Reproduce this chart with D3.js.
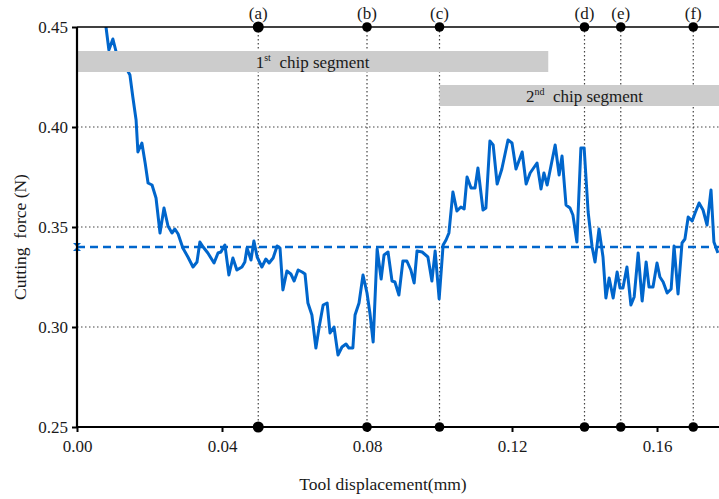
<!DOCTYPE html>
<html>
<head>
<meta charset="utf-8">
<script src="https://cdn.jsdelivr.net/npm/d3@7"></script>
<style>
  html, body { margin: 0; padding: 0; background: #fff; }
  svg { display: block; font-family: "Liberation Serif", "Times New Roman", serif; }
</style>
</head>
<body>
<svg id="chart" width="719" height="499"></svg>
<script>
// Tool displacement (mm)
const displacement = [
  0.0069, 0.0080, 0.0088, 0.0099, 0.0108, 0.0124, 0.0146, 0.0154, 0.0163, 0.0168,
  0.0179, 0.0188, 0.0196, 0.0207, 0.0218, 0.0229, 0.0240, 0.0251, 0.0262, 0.0270,
  0.0279, 0.0292, 0.0306, 0.0320, 0.0331, 0.0339, 0.0348, 0.0361, 0.0378, 0.0389,
  0.0397, 0.0408, 0.0419, 0.0430, 0.0441, 0.0455, 0.0463, 0.0469, 0.0480, 0.0488,
  0.0497, 0.0510, 0.0521, 0.0530, 0.0541, 0.0552, 0.0560, 0.0568, 0.0579, 0.0590,
  0.0599, 0.0610, 0.0621, 0.0629, 0.0637, 0.0648, 0.0659, 0.0668, 0.0679, 0.0690,
  0.0698, 0.0709, 0.0720, 0.0731, 0.0742, 0.0750, 0.0761, 0.0767, 0.0778, 0.0789,
  0.0800, 0.0808, 0.0817, 0.0828, 0.0839, 0.0847, 0.0858, 0.0869, 0.0877, 0.0888,
  0.0899, 0.0910, 0.0921, 0.0930, 0.0938, 0.0952, 0.0968, 0.0979, 0.0988, 0.0999,
  0.1010, 0.1018, 0.1026, 0.1037, 0.1048, 0.1059, 0.1068, 0.1076, 0.1087, 0.1098,
  0.1106, 0.1120, 0.1128, 0.1139, 0.1148, 0.1159, 0.1172, 0.1189, 0.1200, 0.1211,
  0.1228, 0.1239, 0.1250, 0.1269, 0.1280, 0.1288, 0.1297, 0.1319, 0.1330, 0.1338,
  0.1349, 0.1360, 0.1368, 0.1379, 0.1390, 0.1399, 0.1410, 0.1421, 0.1429, 0.1440,
  0.1451, 0.1459, 0.1468, 0.1479, 0.1490, 0.1498, 0.1506, 0.1517, 0.1528, 0.1537,
  0.1548, 0.1559, 0.1570, 0.1578, 0.1589, 0.1600, 0.1608, 0.1617, 0.1628, 0.1639,
  0.1647, 0.1658, 0.1669, 0.1677, 0.1686, 0.1697, 0.1705, 0.1716, 0.1727, 0.1738,
  0.1749, 0.1757, 0.1768
];

// Cutting force (N)
const cuttingForce = [
  0.4575, 0.4500, 0.4385, 0.4440, 0.4375, 0.4335, 0.4260, 0.4150, 0.4035, 0.3875,
  0.3920, 0.3820, 0.3720, 0.3710, 0.3645, 0.3470, 0.3595, 0.3505, 0.3470, 0.3490,
  0.3465, 0.3395, 0.3350, 0.3300, 0.3325, 0.3425, 0.3400, 0.3370, 0.3320, 0.3370,
  0.3375, 0.3410, 0.3260, 0.3345, 0.3285, 0.3300, 0.3325, 0.3395, 0.3335, 0.3430,
  0.3350, 0.3300, 0.3340, 0.3320, 0.3345, 0.3405, 0.3395, 0.3185, 0.3280, 0.3265,
  0.3230, 0.3285, 0.3275, 0.3265, 0.3120, 0.3060, 0.2895, 0.3000, 0.3110, 0.3120,
  0.2970, 0.3000, 0.2860, 0.2900, 0.2915, 0.2895, 0.2895, 0.3060, 0.3120, 0.3260,
  0.3170, 0.3070, 0.2925, 0.3390, 0.3240, 0.3360, 0.3375, 0.3230, 0.3225, 0.3160,
  0.3330, 0.3330, 0.3285, 0.3220, 0.3380, 0.3375, 0.3350, 0.3230, 0.3380, 0.3140,
  0.3410, 0.3435, 0.3470, 0.3675, 0.3580, 0.3600, 0.3590, 0.3750, 0.3695, 0.3695,
  0.3795, 0.3585, 0.3595, 0.3930, 0.3910, 0.3715, 0.3790, 0.3935, 0.3920, 0.3790,
  0.3875, 0.3715, 0.3770, 0.3820, 0.3690, 0.3770, 0.3710, 0.3910, 0.3760, 0.3855,
  0.3610, 0.3595, 0.3560, 0.3425, 0.3895, 0.3895, 0.3575, 0.3400, 0.3325, 0.3490,
  0.3350, 0.3145, 0.3245, 0.3145, 0.3275, 0.3195, 0.3195, 0.3300, 0.3110, 0.3150,
  0.3370, 0.3130, 0.3325, 0.3200, 0.3200, 0.3320, 0.3250, 0.3225, 0.3170, 0.3190,
  0.3405, 0.3165, 0.3420, 0.3440, 0.3550, 0.3530, 0.3570, 0.3620, 0.3585, 0.3510,
  0.3685, 0.3425, 0.3370
];

// Chip formation stages marked along the top and bottom axes
const eventLabels = ["(a)", "(b)", "(c)", "(d)", "(e)", "(f)"];
const eventPositions = [0.05, 0.08, 0.10, 0.14, 0.15, 0.17];

// Chip segment bands: start, end, lower force, upper force
const segmentNames = ["1", "2"];
const segmentSuffix = ["st", "nd"];
const segmentStart = [0.00, 0.10];
const segmentEnd = [0.13, 0.18];
const segmentLow = [0.4275, 0.4105];
const segmentHigh = [0.4380, 0.4210];

const meanForce = 0.34;
const xTicks = [0.00, 0.04, 0.08, 0.12, 0.16];
const yTicks = [0.25, 0.30, 0.35, 0.40, 0.45];
const yGrid = [0.30, 0.35, 0.40];

const svg = d3.select("#chart");
const plotLeft = 77, plotRight = 719, plotTop = 27, plotBottom = 427;
const blue = "#0066cc";

const x = d3.scaleLinear().domain([0, 0.1771]).range([plotLeft, plotRight]);
const y = d3.scaleLinear().domain([0.25, 0.45]).range([plotBottom, plotTop]);

svg.append("defs").append("clipPath").attr("id", "plot-clip")
  .append("rect").attr("x", plotLeft).attr("y", plotTop)
  .attr("width", plotRight - plotLeft).attr("height", plotBottom - plotTop);

// Horizontal dotted grid
svg.append("g").selectAll("line").data(yGrid).join("line")
  .attr("x1", plotLeft).attr("x2", plotRight)
  .attr("y1", d => y(d)).attr("y2", d => y(d))
  .attr("stroke", "#444").attr("stroke-width", 1.2)
  .attr("stroke-dasharray", "1.5,2.5");

// Vertical dotted markers for each stage
svg.append("g").selectAll("line").data(eventPositions).join("line")
  .attr("x1", d => x(d)).attr("x2", d => x(d))
  .attr("y1", plotTop).attr("y2", plotBottom)
  .attr("stroke", "#444").attr("stroke-width", 1.2)
  .attr("stroke-dasharray", "1.5,2.5");

// Force curve
const line = d3.line()
  .x((d, i) => x(displacement[i]))
  .y(d => y(d));

svg.append("path")
  .datum(cuttingForce)
  .attr("clip-path", "url(#plot-clip)")
  .attr("fill", "none")
  .attr("stroke", blue)
  .attr("stroke-width", 3)
  .attr("stroke-linejoin", "round")
  .attr("d", line);

// Mean force level
svg.append("line")
  .attr("x1", x(0)).attr("x2", plotRight)
  .attr("y1", y(meanForce)).attr("y2", y(meanForce))
  .attr("stroke", blue).attr("stroke-width", 2.5)
  .attr("stroke-dasharray", "8,5");

const my = y(meanForce), mx = x(0);
svg.append("path")
  .attr("d", `M${mx - 4},${my - 4}L${mx + 4},${my - 4}L${mx},${my}L${mx + 4},${my + 4}L${mx - 4},${my + 4}L${mx},${my}Z`)
  .attr("fill", blue);

// Chip segment bands
const bands = svg.append("g").attr("clip-path", "url(#plot-clip)");
segmentNames.forEach((name, i) => {
  bands.append("rect")
    .attr("x", x(segmentStart[i]))
    .attr("width", x(segmentEnd[i]) - x(segmentStart[i]))
    .attr("y", y(segmentHigh[i]))
    .attr("height", y(segmentLow[i]) - y(segmentHigh[i]))
    .attr("fill", "#cccccc");
  const cx = (x(segmentStart[i]) + x(segmentEnd[i])) / 2;
  const cy = (y(segmentHigh[i]) + y(segmentLow[i])) / 2;
  const t = svg.append("text")
    .attr("x", cx).attr("y", cy + 6)
    .attr("text-anchor", "middle")
    .attr("font-size", 17).attr("fill", "#1a1a1a");
  t.append("tspan").text(name);
  t.append("tspan").attr("font-size", 10).attr("dy", -7).text(segmentSuffix[i]);
  t.append("tspan").attr("dy", 7).text("\u00a0 chip segment");
});

// Axes
svg.append("line")
  .attr("x1", plotLeft).attr("x2", plotRight).attr("y1", plotTop).attr("y2", plotTop)
  .attr("stroke", "#000").attr("stroke-width", 1.6);

const yAxis = svg.append("g")
  .attr("transform", `translate(${plotLeft},0)`)
  .call(d3.axisLeft(y).tickValues(yTicks).tickFormat(d3.format(".2f")).tickSize(5).tickPadding(4));
const xAxis = svg.append("g")
  .attr("transform", `translate(0,${plotBottom})`)
  .call(d3.axisBottom(x).tickValues(xTicks).tickFormat(d3.format(".2f")).tickSize(5).tickPadding(8));

[yAxis, xAxis].forEach(g => {
  g.attr("font-family", "Liberation Serif, serif");
  g.select(".domain").attr("stroke", "#000").attr("stroke-width", 2.2);
  g.selectAll(".tick line").attr("stroke", "#000").attr("stroke-width", 2);
  g.selectAll(".tick text")
    .attr("font-family", "Liberation Serif, serif")
    .attr("font-size", 17).attr("fill", "#1a1a1a");
});
xAxis.select(".domain").attr("d", `M${plotLeft},0H${plotRight}`);
yAxis.select(".domain").attr("d", `M0,${plotBottom}V${plotTop}`);

// Stage markers on both axes
const markers = svg.append("g");
eventPositions.forEach((p, i) => {
  const r = i === 0 ? 5.5 : 4.8;
  [plotTop, plotBottom].forEach(yy => {
    markers.append("circle").attr("cx", x(p)).attr("cy", yy).attr("r", r).attr("fill", "#000");
  });
  markers.append("text")
    .attr("x", x(p)).attr("y", plotTop - 8)
    .attr("text-anchor", "middle")
    .attr("font-size", 17).attr("fill", "#1a1a1a")
    .text(eventLabels[i]);
});

// Axis titles
svg.append("text")
  .attr("x", 383).attr("y", 490)
  .attr("text-anchor", "middle")
  .attr("font-size", 17.5).attr("fill", "#1a1a1a")
  .text("Tool displacement(mm)");

svg.append("text")
  .attr("transform", "translate(26,237) rotate(-90)")
  .attr("text-anchor", "middle")
  .attr("font-size", 17.5).attr("fill", "#1a1a1a")
  .style("white-space", "pre")
  .text("Cutting  force (N)");
</script>
</body>
</html>
